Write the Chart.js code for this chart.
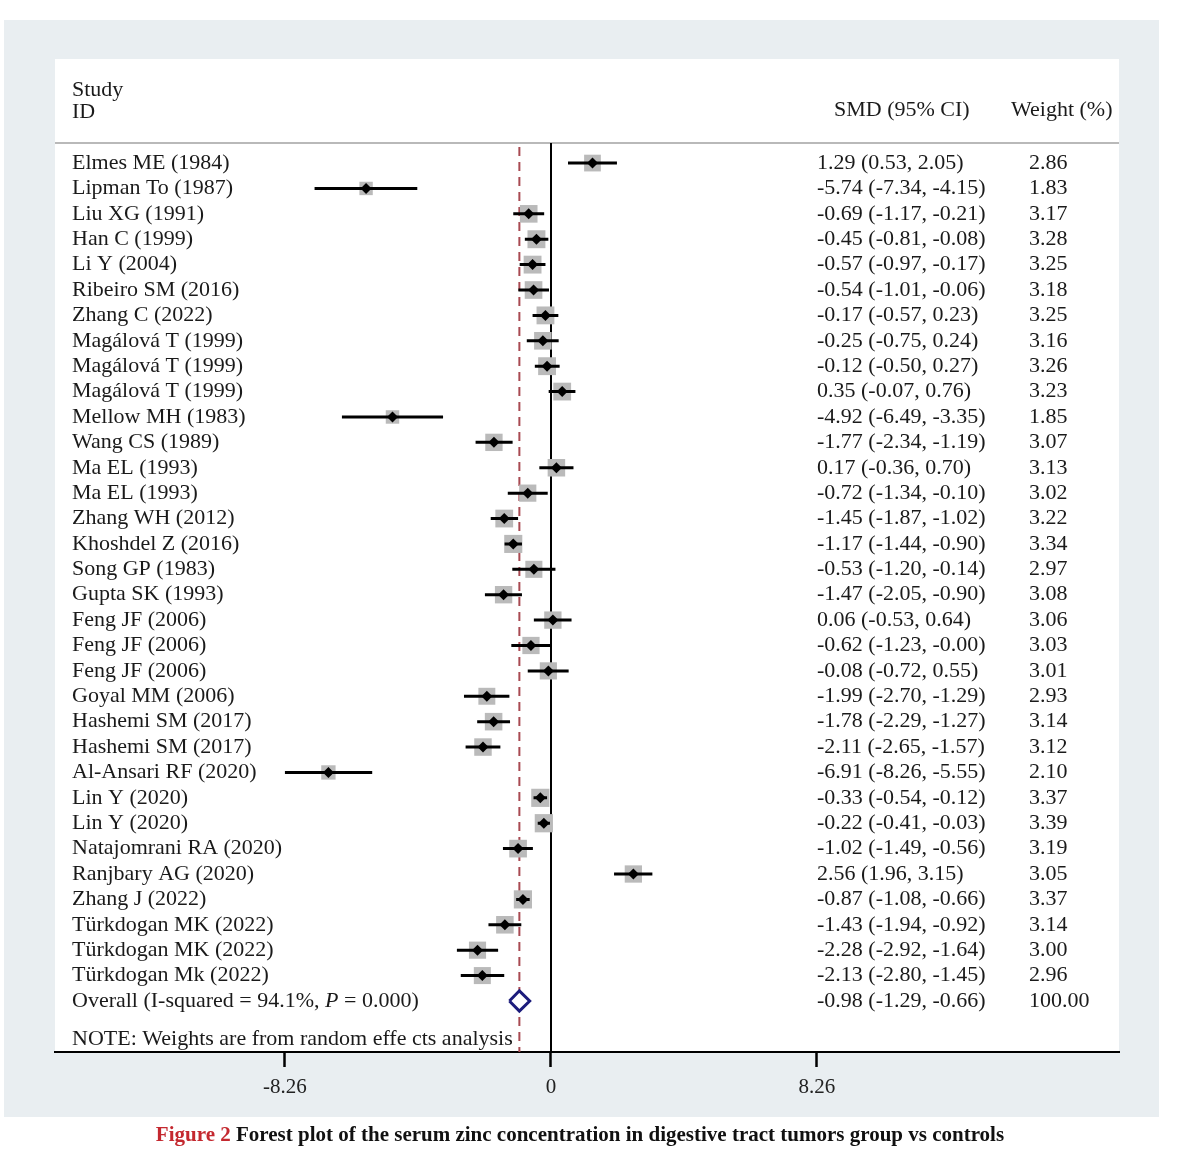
<!DOCTYPE html>
<html>
<head>
<meta charset="utf-8">
<script src="https://cdn.jsdelivr.net/npm/chart.js@4"></script>
<style>
  html, body { margin: 0; padding: 0; background: #fff; }
  #wrap { width: 1200px; height: 1169px; }
</style>
</head>
<body>
<div id="wrap"><canvas id="forest" width="1200" height="1169"></canvas></div>
<script>
// ------------------------------
// DATA
// ------------------------------
const studies = [
  'Elmes ME (1984)', 'Lipman To (1987)', 'Liu XG (1991)', 'Han C (1999)', 'Li Y (2004)',
  'Ribeiro SM (2016)', 'Zhang C (2022)', 'Magálová T (1999)', 'Magálová T (1999)', 'Magálová T (1999)',
  'Mellow MH (1983)', 'Wang CS (1989)', 'Ma EL (1993)', 'Ma EL (1993)', 'Zhang WH (2012)',
  'Khoshdel Z (2016)', 'Song GP (1983)', 'Gupta SK (1993)', 'Feng JF (2006)', 'Feng JF (2006)',
  'Feng JF (2006)', 'Goyal MM (2006)', 'Hashemi SM (2017)', 'Hashemi SM (2017)', 'Al-Ansari RF (2020)',
  'Lin Y (2020)', 'Lin Y (2020)', 'Natajomrani RA (2020)', 'Ranjbary AG (2020)', 'Zhang J (2022)',
  'Türkdogan MK (2022)', 'Türkdogan MK (2022)', 'Türkdogan Mk (2022)'
];
const smd = [1.29, -5.74, -0.69, -0.45, -0.57, -0.54, -0.17, -0.25, -0.12, 0.35,
  -4.92, -1.77, 0.17, -0.72, -1.45, -1.17, -0.53, -1.47, 0.06, -0.62,
  -0.08, -1.99, -1.78, -2.11, -6.91, -0.33, -0.22, -1.02, 2.56, -0.87,
  -1.43, -2.28, -2.13];
const ciLow = [0.53, -7.34, -1.17, -0.81, -0.97, -1.01, -0.57, -0.75, -0.50, -0.07,
  -6.49, -2.34, -0.36, -1.34, -1.87, -1.44, -1.20, -2.05, -0.53, -1.23,
  -0.72, -2.70, -2.29, -2.65, -8.26, -0.54, -0.41, -1.49, 1.96, -1.08,
  -1.94, -2.92, -2.80];
const ciHigh = [2.05, -4.15, -0.21, -0.08, -0.17, -0.06, 0.23, 0.24, 0.27, 0.76,
  -3.35, -1.19, 0.70, -0.10, -1.02, -0.90, 0.14, -0.90, 0.64, 0.00,
  0.55, -1.29, -1.27, -1.57, -5.55, -0.12, -0.03, -0.56, 3.15, -0.66,
  -0.92, -1.64, -1.45];
const weights = [2.86, 1.83, 3.17, 3.28, 3.25, 3.18, 3.25, 3.16, 3.26, 3.23,
  1.85, 3.07, 3.13, 3.02, 3.22, 3.34, 2.97, 3.08, 3.06, 3.03,
  3.01, 2.93, 3.14, 3.12, 2.10, 3.37, 3.39, 3.19, 3.05, 3.37,
  3.14, 3.00, 2.96];
// effect-size column text exactly as printed
const ciText = [
  '1.29 (0.53, 2.05)', '-5.74 (-7.34, -4.15)', '-0.69 (-1.17, -0.21)', '-0.45 (-0.81, -0.08)', '-0.57 (-0.97, -0.17)',
  '-0.54 (-1.01, -0.06)', '-0.17 (-0.57, 0.23)', '-0.25 (-0.75, 0.24)', '-0.12 (-0.50, 0.27)', '0.35 (-0.07, 0.76)',
  '-4.92 (-6.49, -3.35)', '-1.77 (-2.34, -1.19)', '0.17 (-0.36, 0.70)', '-0.72 (-1.34, -0.10)', '-1.45 (-1.87, -1.02)',
  '-1.17 (-1.44, -0.90)', '-0.53 (-1.20, -0.14)', '-1.47 (-2.05, -0.90)', '0.06 (-0.53, 0.64)', '-0.62 (-1.23, -0.00)',
  '-0.08 (-0.72, 0.55)', '-1.99 (-2.70, -1.29)', '-1.78 (-2.29, -1.27)', '-2.11 (-2.65, -1.57)', '-6.91 (-8.26, -5.55)',
  '-0.33 (-0.54, -0.12)', '-0.22 (-0.41, -0.03)', '-1.02 (-1.49, -0.56)', '2.56 (1.96, 3.15)', '-0.87 (-1.08, -0.66)',
  '-1.43 (-1.94, -0.92)', '-2.28 (-2.92, -1.64)', '-2.13 (-2.80, -1.45)'
];
const overallSmd = -0.98;
const overallLow = -1.29;
const overallHigh = -0.66;
const overallText = '-0.98 (-1.29, -0.66)';
const overallWeight = '100.00';
const overallLabel = ['Overall (I-squared = 94.1%, ', 'P', ' = 0.000)'];
const noteText = 'NOTE: Weights are from random effe cts analysis';

const tickValues = [-8.26, 0, 8.26];
const tickLabels = ['-8.26', '0', '8.26'];

const captionLead = 'Figure 2';
const captionRest = ' Forest plot of the serum zinc concentration in digestive tract tumors group vs controls';

// ------------------------------
// STYLE
// ------------------------------
const FONT = '"Liberation Serif", "Times New Roman", serif';
const TEXT_SIZE = 22;
const overallRow = studies.length;      // row index of the pooled estimate
const diamondHalf = 0.4;                // half height of pooled diamond, in rows

const fmtWeight = w => w.toFixed(2);

// ------------------------------
// DATASETS
// ------------------------------
const squarePoints = smd.map((v, i) => ({ x: v, y: i }));
const ciSegments = [];
smd.forEach((v, i) => {
  ciSegments.push({ x: ciLow[i], y: i }, { x: ciHigh[i], y: i }, { x: NaN, y: NaN });
});
const diamondPoints = [
  { x: overallLow, y: overallRow },
  { x: overallSmd, y: overallRow - diamondHalf },
  { x: overallHigh, y: overallRow },
  { x: overallSmd, y: overallRow + diamondHalf },
  { x: overallLow, y: overallRow }
];

// ------------------------------
// DECORATION + TEXT PLUGIN
// ------------------------------
const forestDecor = {
  id: 'forestDecor',
  beforeDraw(chart) {
    const c = chart.ctx;
    c.save();
    c.fillStyle = '#ffffff';
    c.fillRect(0, 0, chart.width, chart.height);
    c.fillStyle = '#e9eef1';
    c.fillRect(4, 20, 1155, 1097);
    c.fillStyle = '#ffffff';
    c.fillRect(55, 59, 1064, 993);
    // rule under the header
    c.strokeStyle = '#b9b9b9';
    c.lineWidth = 2;
    c.beginPath();
    c.moveTo(55, 143);
    c.lineTo(1119, 143);
    c.stroke();
    c.restore();
  },
  beforeDatasetsDraw(chart) {
    const { ctx: c, chartArea: a, scales: { x } } = chart;
    c.save();
    // line of no effect
    const x0 = Math.round(x.getPixelForValue(0));
    c.strokeStyle = '#000';
    c.lineWidth = 2;
    c.beginPath();
    c.moveTo(x0, a.top);
    c.lineTo(x0, a.bottom);
    c.stroke();
    // pooled estimate line
    const xo = x.getPixelForValue(overallSmd);
    c.strokeStyle = '#a84a52';
    c.setLineDash([9, 6]);
    c.beginPath();
    c.moveTo(xo, a.top + 4);
    c.lineTo(xo, a.bottom);
    c.stroke();
    c.restore();
  },
  afterDraw(chart) {
    const { ctx: c, scales: { y } } = chart;
    c.save();
    c.fillStyle = '#1a1a1a';
    c.textBaseline = 'middle';
    c.font = `${TEXT_SIZE}px ${FONT}`;

    // header
    c.fillText('Study', 72, 90);
    c.fillText('ID', 72, 112);
    c.fillText('SMD (95% CI)', 834, 110);
    c.fillText('Weight (%)', 1011, 110);

    // study rows
    studies.forEach((s, i) => {
      const py = y.getPixelForValue(i);
      c.fillText(s, 72, py);
      c.fillText(ciText[i], 817, py);
      c.fillText(fmtWeight(weights[i]), 1029, py);
    });

    // pooled row, with italic P
    const po = y.getPixelForValue(overallRow);
    let px = 72;
    overallLabel.forEach((part, k) => {
      c.font = (k === 1 ? 'italic ' : '') + `${TEXT_SIZE}px ${FONT}`;
      c.fillText(part, px, po);
      px += c.measureText(part).width;
    });
    c.font = `${TEXT_SIZE}px ${FONT}`;
    c.fillText(overallText, 817, po);
    c.fillText(overallWeight, 1029, po);

    c.fillText(noteText, 72, 1039);

    // caption
    c.font = `bold 21px ${FONT}`;
    const w1 = c.measureText(captionLead).width;
    const w2 = c.measureText(captionRest).width;
    const cx = 580 - (w1 + w2) / 2;
    c.fillStyle = '#c4282f';
    c.fillText(captionLead, cx, 1136);
    c.fillStyle = '#111';
    c.fillText(captionRest, cx + w1, 1136);
    c.restore();
  }
};

// ------------------------------
// CHART BUILDING
// ------------------------------
const ctx = document.getElementById('forest').getContext('2d');
new Chart(ctx, {
  type: 'scatter',
  data: {
    datasets: [
      {
        label: 'Pooled',
        type: 'line',
        data: diamondPoints,
        borderColor: '#1c1c7c',
        borderWidth: 3,
        backgroundColor: '#ffffff',
        fill: 'shape',
        pointRadius: 0,
        tension: 0,
        order: 1
      },
      {
        label: 'Estimate',
        data: squarePoints,
        pointStyle: 'rectRot',
        pointRadius: 5.5,
        backgroundColor: '#000',
        borderWidth: 0,
        order: 2
      },
      {
        label: 'CI',
        type: 'line',
        data: ciSegments,
        borderColor: '#000',
        borderWidth: 3,
        pointRadius: 0,
        spanGaps: false,
        fill: false,
        tension: 0,
        order: 3
      },
      {
        label: 'Weight',
        data: squarePoints,
        pointStyle: 'rect',
        pointRadius: c => 7 * Math.sqrt(weights[c.dataIndex]),
        backgroundColor: '#bababa',
        borderWidth: 0,
        order: 4
      }
    ]
  },
  options: {
    responsive: false,
    devicePixelRatio: 1,
    animation: false,
    events: [],
    layout: { padding: { top: 143, left: 55, right: 81, bottom: 0 } },
    plugins: {
      legend: { display: false },
      tooltip: { enabled: false }
    },
    scales: {
      x: {
        type: 'linear',
        min: -15.40,
        max: 17.64,
        afterBuildTicks: axis => { axis.ticks = tickValues.map(v => ({ value: v })); },
        afterFit: axis => { axis.height = 117; },
        ticks: {
          callback: (v, i) => tickLabels[i],
          font: { family: FONT, size: 21 },
          color: '#222',
          padding: 8,
          maxRotation: 0,
          autoSkip: false
        },
        grid: {
          drawOnChartArea: false,
          drawTicks: true,
          tickLength: 15,
          tickColor: '#000',
          tickWidth: 2.5
        },
        border: { display: true, color: '#000', width: 2 }
      },
      y: {
        type: 'linear',
        display: false,
        reverse: true,
        min: -0.79,
        max: 35.01
      }
    }
  },
  plugins: [forestDecor]
});
</script>
</body>
</html>
